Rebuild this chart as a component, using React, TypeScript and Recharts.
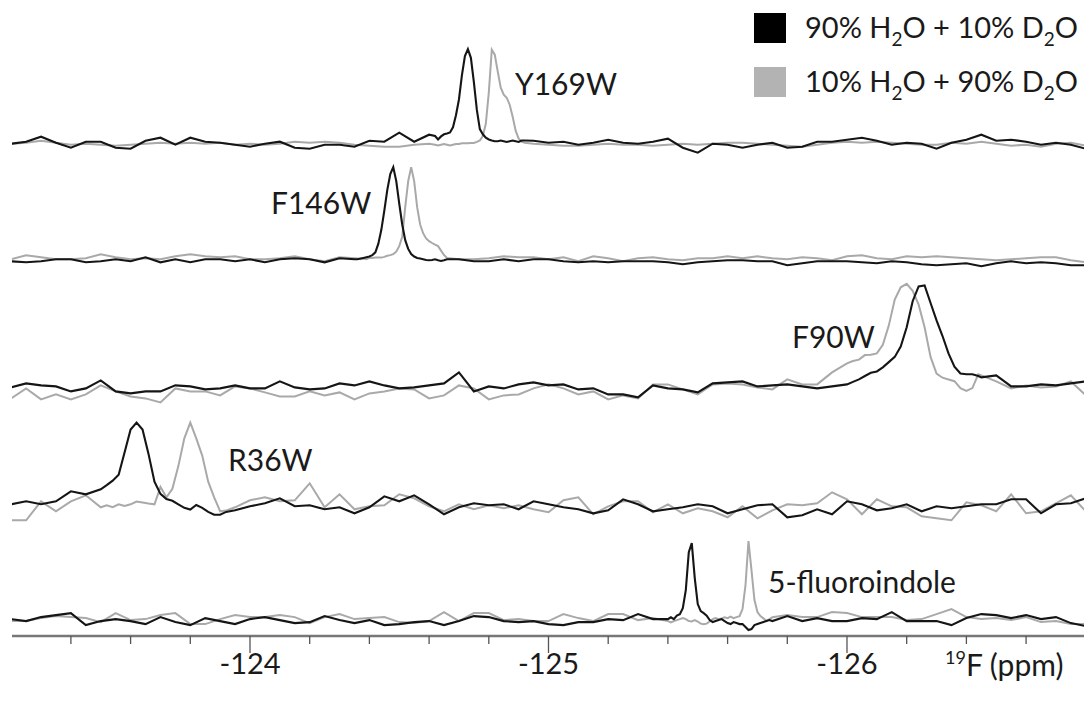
import React from "react";
import { LineChart, Line, XAxis, YAxis } from "recharts";

// chemical shift grid shared by every trace (ppm)
const PPM = [
  -123.2, -123.25, -123.3, -123.35, -123.4, -123.45, -123.5, -123.55, -123.6, -123.65,
  -123.7, -123.75, -123.8, -123.85, -123.9, -123.95, -124.0, -124.05, -124.1, -124.15,
  -124.2, -124.25, -124.3, -124.35, -124.4, -124.45, -124.5, -124.55, -124.6, -124.65,
  -124.7, -124.75, -124.8, -124.85, -124.9, -124.95, -125.0, -125.05, -125.1, -125.15,
  -125.2, -125.25, -125.3, -125.35, -125.4, -125.45, -125.5, -125.55, -125.6, -125.65,
  -125.7, -125.75, -125.8, -125.85, -125.9, -125.95, -126.0, -126.05, -126.1, -126.15,
  -126.2, -126.25, -126.3, -126.35, -126.4, -126.45, -126.5, -126.55, -126.6, -126.65,
  -126.7, -126.75, -126.8,
];

const TICKS = [
  -123.4, -123.6, -123.8, -124, -124.2, -124.4, -124.6, -124.8, -125,
  -125.2, -125.4, -125.6, -125.8, -126, -126.2, -126.4, -126.6,
];

const _ = null;

// ---- Y169W ----
const y169Base = [
  1, 3, 8, 2, -3, 3, 3, -3, -4, 4, 7, 0, 7, 3, 2, 0, -2, 1, 3, -3,
  -4, 0, 0, -2, 4, 3, 12, 3, 10, _, _, _, _, _, _,
  4, 2, 3, 0, 2, 5, 2, 1, 3, 6, -3, -8, 1, 0, -3, 0, 2, -3, -2, 3,
  3, 5, 7, 4, 0, 2, 1, -4, 2, 5, 10, 4, 5, 3, 0, 2, 0, -4,
];
const y169BaseD2O = [
  1, 2, 4, 2, 0, 1, 0, -1, 0, 1, 2, 1, 2, 1, 2, 0, 1, 0, 1, 3,
  2, 3, 2, 0, -1, -2, -2, 0, 1, _, _, _, _, _, _,
  1, 0, -1, -1, 0, 1, 0, 0, -1, 0, 1, 0, 1, 2, 2, 1, 0, -1, -2, 0,
  2, 3, 2, 3, 2, 1, 0, 0, 2, 1, 3, 1, -1, 0, -2, 1, 2, -1,
];
const y169PeakPpm = [
  -124.62, -124.63, -124.64, -124.65, -124.66, -124.67, -124.68, -124.69, -124.7, -124.71,
  -124.72, -124.73, -124.74, -124.75, -124.76, -124.77, -124.78, -124.79, -124.8, -124.81,
  -124.82, -124.83, -124.84, -124.85, -124.86, -124.87, -124.88, -124.89, -124.9, -124.91, -124.92,
];
const y169Peak = [
  8.7, 5.2, 8.3, 10.4, 11.1, 12.2, 17.4, 29.5, 45.2, 69.5,
  88.6, 95.6, 86.9, 62.6, 34.8, 15.6, 10.4, 7, 5.2, 4.2,
  3.5, 3.5, 4.2, 3.5, 2.8, 3.5, 4.2, 3.5, 2.8, 4.2, 4.2,
];
const y169PeakD2O = [
  0, -0.7, 0, 0.7, 0, -0.7, 0, 0.7, 0.7, 1.4,
  1.4, 1.4, 1.7, 1.7, 2.8, 4.2, 8.7, 20.9, 52, 95,
  90, 73, 57, 50, 47, 40, 28, 14, 6, 3, 2,
];

// ---- F146W ----
const f146Base = [
  -2, -3, -2, 0, 0, -3, -2, 0, -2, 2, -3, 0, -3, 0, 0, -2, 0, -3, 0, 1,
  0, -3, 1, 0, _, _, _, _, _, _,
  0, -2, -2, 0, -2, 0,
  0, -2, -3, -2, -3, -2, -2, -2, -3, -5, -3, -2, -1, -1, -2, -2, -6, -4, -2, -2,
  -2, -3, -4, -2, -3, -5, -6, -5, -4, -7, -4, -2, -4, -3, -4, -6, -6,
];
const f146BaseD2O = [
  0, 4, 2, 0, 0, 1, 5, 2, 0, 1, 0, 3, 5, 3, 2, 3, 0, 0, 1, 3,
  0, -2, 2, 1, _, _, _, _, _, _,
  0, 0, 1, 3, 2, 2,
  0, 2, -2, 3, 1, -2, 1, 2, 0, -1, 1, 1, 3, 1, 3, 1, 0, 2, 1, -1,
  3, 4, 1, 0, 3, 2, 3, 2, 1, 0, -1, 0, 1, 2, 2, -1, -3,
];
const f146PeakPpm = [
  -124.36, -124.37, -124.38, -124.39, -124.4, -124.41, -124.42, -124.43, -124.44, -124.45,
  -124.46, -124.47, -124.48, -124.49, -124.5, -124.51, -124.52, -124.53, -124.54, -124.55,
  -124.56, -124.57, -124.58, -124.59, -124.6, -124.61, -124.62, -124.63, -124.64, -124.65, -124.66,
];
const f146Peak = [
  0, 0.7, 1.4, 2.1, 2.8, 4.2, 7, 15.6, 29.5, 48.7,
  69.5, 85.2, 92.1, 78.2, 55.6, 34.8, 19.1, 10.4, 5.2, 2.8,
  1.4, 0.7, 0, -0.7, -1, -0.7, 0, -1, -1.7, -1, 0,
];
const f146PeakD2O = [
  0.7, 0, 0.7, 0, 1.4, 1.4, 1.7, 1.7, 1.7, 2.4,
  3.5, 4.2, 5.2, 7.6, 13.2, 22.6, 52.1, 78.2, 92.1, 78.2,
  52.1, 34.8, 26.1, 20.9, 18.1, 16.3, 14.6, 13.2, 8.7, 4.2, 1.4,
];

// ---- F90W ----
const f90Base = [
  -1, 3, 1, 0, -5, -2, 6, -5, -7, -5, -5, 1, 0, -3, -2, 1, -2, -2, 5, -1,
  -3, -2, 3, 1, 5, 1, -2, -1, 1, 3, 14, -5, 0, -2, 2, 4,
  1, 2, -3, -2, -8, -8, -11, 1, -2, -3, -6, 3, 4, 5, 0, 1, 2, 0, -2, 0, 2,
  _, _, _, _, _, _, _, _,
  9, 11, 0, 0, 2, 1, 3, 5,
];
const f90BaseD2O = [
  -12, -2, -13, -8, -13, -8, 1, -5, -10, -12, -16, -2, -5, -5, -9, 0, -2, -6, -10, -10,
  -5, -9, -6, -13, -7, -5, -2, -3, -12, -9, 1, -2, -13, -9, -8, -2,
  2, -2, -8, -5, -13, -9, -12, 2, 2, -3, -8, 2, 3, 2, -1, -3, 7, 2, 2, 14, 23,
  _, _, _, _, _, _, _, _,
  11, 5, -2, 1, -1, 0, 5, -9,
];
const f90PeakPpm = [
  -126.02, -126.04, -126.06, -126.08, -126.1, -126.12, -126.14, -126.16, -126.18, -126.2, -126.22,
  -126.24, -126.26, -126.28, -126.3, -126.32, -126.34, -126.36, -126.38, -126.4, -126.42, -126.44,
];
const f90Peak = [
  4.5, 7, 10.4, 13.6, 15, 19.1, 24.3, 29.5, 39.9, 59.1, 85.2,
  100, 101, 83.4, 66, 50.4, 33, 19.8, 12.9, 12.2, 12.2, 10.4,
];
const f90PeakD2O = [
  25.4, 26.8, 31.3, 31.6, 33, 41.7, 60.8, 86.9, 99.1, 102.5, 95.6,
  81.7, 59.1, 29.5, 12.9, 8.7, 6.9, 5.2, -1.7, -4.5, -1.7, 12.2,
];

// ---- R36W ----
const r36Base = [
  0, 3, 0, 3, 13, 10, 15,
  _, _, _, _, _, _, _, _,
  -6, -2, 1, 6, -2, -1, -5, -3, -9, -3, 8, 3, 9, 0, -10, -3, 1, -1, 0, -5, 3,
  0, -3, -5, -9, -6, 5, 0, -7, -5, -3, 0, -2, -9, -5, -1, 0, -13, -11, -5, -10,
  3, 0, -6, -4, 0, -7, -2, -4, -2, 0, 0, 5, 5, -9, 0, 1, 6,
];
const r36BaseD2O = [
  -16, -16, 3, -7, 3, 9, -3,
  _, _, _, _, _, _, _, _,
  -3, 4, 7, 3, 4, 21, -3, 10, -5, -2, -1, 10, 6, -2, -7, 0, -5, -1, -4, -1, -5,
  -8, 4, 7, -10, -2, 3, 3, -8, 0, -9, -4, -7, -13, -2, -14, -6, 0, -1, 1, 12,
  5, -10, 5, -2, -3, -12, -14, -16, 2, -1, -7, 10, -9, -7, 1, 9, -7,
];
const r36PeakPpm = [
  -123.52, -123.54, -123.56, -123.58, -123.6, -123.62, -123.64, -123.66, -123.68, -123.7, -123.72,
  -123.74, -123.76, -123.78, -123.8, -123.82, -123.84, -123.86, -123.88, -123.9, -123.92,
];
const r36Peak = [
  19.1, 23.6, 29.5, 52.1, 74.7, 81.7, 74.7, 50.4, 22.6, 10.4, 5.2,
  3.5, 0, -3.5, -5.2, -0.7, -3.5, -7.6, -10.4, -10.4, -7.6,
];
const r36PeakD2O = [
  -1, -2.8, 0, -1.7, 0, 2.8, 1.7, 0.7, 0, 17.4, 7,
  15.6, 38.2, 66, 81.7, 66, 48.7, 22.6, 7, -7, -6.3,
];

// ---- 5-fluoroindole ----
const fiBase = [
  1, -1, 3, 5, 7, -5, -1, 1, -1, -4, 3, -2, -5, 2, -1, -4, 1, 3, 0, -3,
  -2, 4, 0, -3, 0, -5, -4, -2, -1, -5, -1, 4, 3, -1, -2, -1,
  -4, -5, -2, -2, 1, 0, 6, 1,
  _, _, _, _, _, _, _, _,
  4, -1, 2, -1, -1, 2, 1, 8, -1, -1, -1, -5, 2, 6, 5, 2, 5, 1, 3, -3, -6,
];
const fiBaseD2O = [
  -1, -1, 2, 4, 3, 2, -2, 7, 0, 1, 5, 7, -4, -4, 1, 5, 3, 3, 5, 3,
  -3, 3, 6, 1, 2, 3, -2, -3, -1, 8, -1, 7, 7, 0, 1, -1,
  -1, 6, 2, -1, 6, 6, 0, 2,
  _, _, _, _, _, _, _, _,
  5, 3, 3, 8, 7, 3, 3, 3, 0, 1, 6, 11, 3, 1, 2, 0, 3, -2, -1, -4, -4,
];
const fiPeakPpm = [
  -125.4, -125.41, -125.42, -125.43, -125.44, -125.45, -125.46, -125.47, -125.48, -125.49,
  -125.5, -125.51, -125.52, -125.53, -125.54, -125.55, -125.56, -125.57, -125.58, -125.59,
  -125.6, -125.61, -125.62, -125.63, -125.64, -125.65, -125.66, -125.67, -125.68, -125.69,
  -125.7, -125.71, -125.72, -125.73, -125.74, -125.75,
];
const fiPeak = [
  1, 2.8, 1, 4.5, 6, 12, 30, 68, 77, 42,
  16, 9, 6.9, 4.5, 0, -2, -1, 0, 1, -1,
  -3, -4, -2, -3, -4, -4, -7, -10, -9, -5,
  -4, -3, -2, -1, 0, -1,
];
const fiPeakD2O = [
  -1, -2.4, -1, 0, 1, 2, 1, -1, -1.4, 0,
  -1.4, -3.5, -4.2, -3.5, -1.4, 1, 2, 1, 1.7, 2.8,
  2, 3.5, 2, 3, 4, 11, 35, 79, 50, 20,
  8, 4, 1.7, -0.7, 1, 2.8,
];

const LABELS = ["Y169W", "F146W", "F90W", "R36W", "5-fluoroindole"];

// vertical stacking of the five spectra (chart units = px above the axis)
const OFFSETS = [491.3, 376.7, 249.6, 131.7, 15.9];
const LABEL_POS = [
  { x: 515, y: 95 },
  { x: 271, y: 214 },
  { x: 792, y: 348 },
  { x: 228, y: 471 },
  { x: 768, y: 593 },
];

const H2O_COLOR = "#151515";
const D2O_COLOR = "#a9a9a9";
const FONT = "Lato, 'Open Sans', sans-serif";

function buildTrace(
  base: (number | null)[],
  peakPpm: number[],
  peak: number[],
  offset: number
) {
  const pts = PPM.map((ppm, i) => ({ ppm, v: base[i] }))
    .filter((p) => p.v !== null)
    .concat(peakPpm.map((ppm, i) => ({ ppm, v: peak[i] })))
    .sort((a, b) => b.ppm - a.ppm);
  return pts.map((p) => ({ ppm: p.ppm, v: (p.v as number) + offset }));
}

const traces = [
  [y169Base, y169BaseD2O, y169PeakPpm, y169Peak, y169PeakD2O],
  [f146Base, f146BaseD2O, f146PeakPpm, f146Peak, f146PeakD2O],
  [f90Base, f90BaseD2O, f90PeakPpm, f90Peak, f90PeakD2O],
  [r36Base, r36BaseD2O, r36PeakPpm, r36Peak, r36PeakD2O],
  [fiBase, fiBaseD2O, fiPeakPpm, fiPeak, fiPeakD2O],
].map(([b, bd, pp, pk, pkd], i) => ({
  h2o: buildTrace(b as any, pp as number[], pk as number[], OFFSETS[i]),
  d2o: buildTrace(bd as any, pp as number[], pkd as number[], OFFSETS[i]),
}));

const AxisTick = ({ x, y, payload }: any) => {
  const major = Math.abs(payload.value - Math.round(payload.value)) < 1e-6;
  return (
    <g>
      <line x1={x} x2={x} y1={y} y2={y + (major ? 17 : 8)} stroke="#555" strokeWidth={1.3} />
      {major && (
        <text x={x} y={y + 38} textAnchor="middle" fontSize={29} fill="#1a1a1a" fontFamily={FONT}>
          {payload.value}
        </text>
      )}
    </g>
  );
};

const LegendRow = ({ y, color, a, b }: { y: number; color: string; a: string; b: string }) => (
  <g>
    <rect x={754} y={y - 25} width={32} height={30} fill={color} />
    <text x={805} y={y} fontSize={29} fill="#1a1a1a" fontFamily={FONT}>
      {a}% H<tspan fontSize={19} dy={8}>2</tspan>
      <tspan dy={-8}>O + {b}% D</tspan>
      <tspan fontSize={19} dy={8}>2</tspan>
      <tspan dy={-8}>O</tspan>
    </text>
  </g>
);

const App = () => {
  return (
    <div style={{ position: "absolute", left: 0, top: 0, width: 1090, height: 701, background: "#fff" }}>
      <LineChart width={1090} height={701} margin={{ top: 0, right: 6, bottom: 0, left: 12 }}>
        <XAxis
          type="number"
          dataKey="ppm"
          domain={[-126.794, -123.2027]}
          reversed
          allowDataOverflow
          ticks={TICKS}
          interval={0}
          tickSize={0}
          tickMargin={0}
          height={65}
          tick={<AxisTick />}
          axisLine={{ stroke: "#777", strokeWidth: 2.5 }}
        />
        <YAxis hide type="number" domain={[0, 636]} allowDataOverflow />
        {traces.map((t, i) => (
          <Line
            key={`d2o-${i}`}
            data={t.d2o}
            dataKey="v"
            type="linear"
            dot={false}
            stroke={D2O_COLOR}
            strokeWidth={2}
            isAnimationActive={false}
          />
        ))}
        {traces.map((t, i) => (
          <Line
            key={`h2o-${i}`}
            data={t.h2o}
            dataKey="v"
            type="linear"
            dot={false}
            stroke={H2O_COLOR}
            strokeWidth={2.1}
            isAnimationActive={false}
          />
        ))}
      </LineChart>
      <svg
        width={1090}
        height={701}
        style={{ position: "absolute", left: 0, top: 0, pointerEvents: "none" }}
      >
        {LABELS.map((label, i) => (
          <text
            key={label}
            x={LABEL_POS[i].x}
            y={LABEL_POS[i].y}
            fontSize={30}
            fill="#1a1a1a"
            fontFamily={FONT}
          >
            {label}
          </text>
        ))}
        <text x={945} y={676} fontSize={30} fill="#1a1a1a" fontFamily={FONT}>
          <tspan fontSize={18} dy={-12}>19</tspan>
          <tspan dy={12}>F (ppm)</tspan>
        </text>
        <LegendRow y={38} color="#000" a="90" b="10" />
        <LegendRow y={92} color="#b3b3b3" a="10" b="90" />
      </svg>
    </div>
  );
};

export default App;
